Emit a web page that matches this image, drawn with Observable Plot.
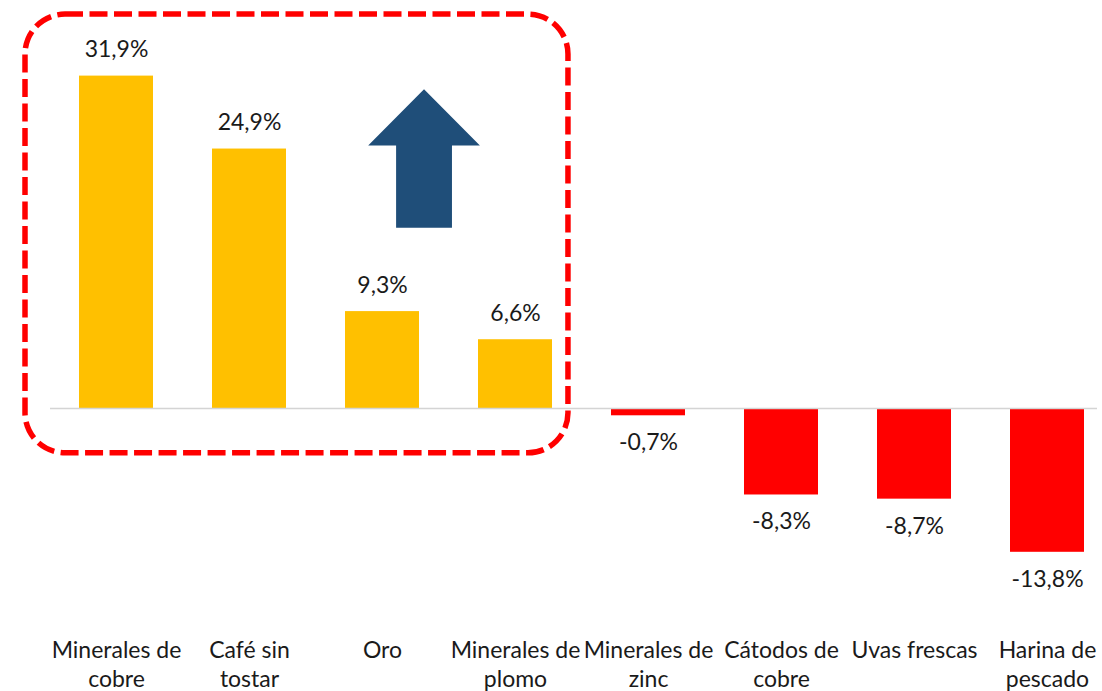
<!DOCTYPE html>
<html>
<head>
<meta charset="utf-8">
<script src="https://cdn.jsdelivr.net/npm/d3@7"></script>
<script src="https://cdn.jsdelivr.net/npm/@observablehq/plot@0.6"></script>
<style>
  html, body { margin: 0; padding: 0; background: #fff; }
  #chart { width: 1102px; height: 691px; }
</style>
</head>
<body>
<div id="chart"></div>
<script>
// ---- data ----
const categories = [
  "Minerales de\ncobre",
  "Café sin\ntostar",
  "Oro",
  "Minerales de\nplomo",
  "Minerales de\nzinc",
  "Cátodos de\ncobre",
  "Uvas frescas",
  "Harina de\npescado"
];
const values = [31.9, 24.9, 9.3, 6.6, -0.7, -8.3, -8.7, -13.8];

// highlight box (category span and value span) and arrow (value span)
const boxCategories = [categories[0], categories[3]];
const boxValues = [-4.3, 37.8];
const arrowValues = {tip: 30.6, headBase: 25.2, bottom: 17.3};

const colorPos = "#FFC000";
const colorNeg = "#FF0000";
const arrowColor = "#1F4E79";

const data = categories.map((c, i) => ({name: c, value: values[i]}));
const fmt = v => v.toFixed(1).replace(".", ",") + "%";

const pxPerUnit = 10.42;
const zeroY = 408;

function boxMark(index, scales) {
  const x = scales.x, y = scales.y;
  const step = x.step(), bw = x.bandwidth();
  const x1 = x(boxCategories[0]) - 0.406 * step;
  const x2 = x(boxCategories[1]) + bw + 0.12 * step;
  const y1 = y(boxValues[1]);
  const y2 = y(boxValues[0]);
  const g = d3.create("svg:g");
  g.append("rect")
    .attr("x", x1).attr("y", y1)
    .attr("width", x2 - x1).attr("height", y2 - y1)
    .attr("rx", 40).attr("ry", 40)
    .attr("fill", "none")
    .attr("stroke", colorNeg)
    .attr("stroke-width", 5.5)
    .attr("stroke-dasharray", "18 6.5");
  return g.node();
}

function arrowMark(index, scales) {
  const x = scales.x, y = scales.y;
  const step = x.step(), bw = x.bandwidth();
  const cx = x(categories[2]) + bw / 2 + 0.316 * step;
  const hw = 0.42 * step, sw = 0.21 * step;
  const yt = y(arrowValues.tip), yh = y(arrowValues.headBase), yb = y(arrowValues.bottom);
  const pts = [
    [cx, yt], [cx + hw, yh], [cx + sw, yh], [cx + sw, yb],
    [cx - sw, yb], [cx - sw, yh], [cx - hw, yh]
  ];
  return d3.create("svg:path")
    .attr("d", "M" + pts.map(p => p.join(",")).join("L") + "Z")
    .attr("fill", arrowColor)
    .node();
}

const chart = Plot.plot({
  width: 1102,
  height: 691,
  marginLeft: 50,
  marginRight: 5,
  marginTop: 0,
  marginBottom: 71,
  style: {fontFamily: "Lato", background: "#fff", color: "#1a1a1a"},
  x: {
    domain: categories,
    range: [49.5, 1113.5],
    paddingInner: 0.444,
    paddingOuter: 0.222,
    axis: null
  },
  y: {
    domain: [-20, 36],
    range: [zeroY + 20 * pxPerUnit, zeroY - 36 * pxPerUnit],
    axis: null
  },
  marks: [
    Plot.barY(data, {
      x: "name",
      y: "value",
      fill: d => d.value >= 0 ? colorPos : colorNeg
    }),
    Plot.ruleY([0], {stroke: "#d4d4d4", strokeWidth: 1.5}),
    Plot.text(data.filter(d => d.value >= 0), {
      x: "name", y: "value", text: d => fmt(d.value),
      dy: -26, fontSize: 23, fill: "#1a1a1a", lineAnchor: "middle"
    }),
    Plot.text(data.filter(d => d.value < 0), {
      x: "name", y: "value", text: d => fmt(d.value),
      dy: 27, fontSize: 23, fill: "#1a1a1a", lineAnchor: "middle"
    }),
    Plot.axisX({
      anchor: "bottom",
      tickSize: 0,
      tickPadding: 17,
      fontSize: 23,
      lineHeight: 1.25,
      label: null,
      fill: "#1a1a1a"
    }),
    boxMark,
    arrowMark
  ]
});
document.getElementById("chart").appendChild(chart);
</script>
</body>
</html>
